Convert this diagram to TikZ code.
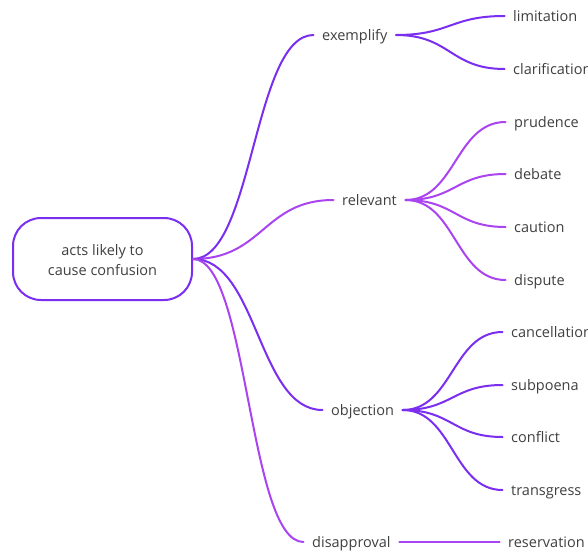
\documentclass[tikz,border=0pt]{standalone}
\usepackage{fontspec}
\setmainfont{Open Sans}
\usetikzlibrary{calc}
\definecolor{vio}{RGB}{122,46,240}
\definecolor{mag}{RGB}{170,68,240}
\definecolor{txt}{RGB}{64,64,64}
\begin{document}
\begin{tikzpicture}[x=1pt,y=-1pt,
  lbl/.style={font=\fontsize{14.5}{17}\selectfont, text=txt, inner xsep=8.5pt, inner ysep=0pt, text height=11pt, text depth=0pt, anchor=west},
  link/.style={line width=2pt, line cap=round, to path={let \p1=(\tikztostart), \p2=(\tikztotarget) in .. controls ({(\x1+\x2)/2},\y1) and ({(\x1+\x2)/2},\y2) .. (\tikztotarget)}}]
\useasboundingbox[fill=white] (0,0) rectangle (588,554);
\node[draw=vio, line width=2pt, rounded corners=28pt, minimum width=179pt, minimum height=82pt, align=center, text=txt, font=\fontsize{14.5}{20}\selectfont] (root) at (102.5,259) {\raisebox{0pt}[\dimexpr\height+4pt\relax]{\begin{tabular}{@{}c@{}}acts likely to\\cause confusion\end{tabular}}};
% level 1
\node[lbl] (exemplify) at (313.5,35) {exemplify};
\node[lbl] (relevant) at (333.5,200) {relevant};
\node[lbl] (objection) at (322.5,410) {objection};
\node[lbl] (disapproval) at (303.5,542) {disapproval};
% leaves
\node[lbl] (limitation) at (504.5,16) {limitation};
\node[lbl] (clarification) at (504.5,69) {clarification};
\node[lbl] (prudence) at (505.5,122) {prudence};
\node[lbl] (debate) at (505.5,174) {debate};
\node[lbl] (caution) at (505.5,227) {caution};
\node[lbl] (dispute) at (505.5,280) {dispute};
\node[lbl] (cancellation) at (502.5,332) {cancellation};
\node[lbl] (subpoena) at (502.5,385) {subpoena};
\node[lbl] (conflict) at (502.5,437) {conflict};
\node[lbl] (transgress) at (502.5,490) {transgress};
\node[lbl] (reservation) at (499.5,542) {reservation};
% connectors
\draw[link, vio] (root.east) to (exemplify.west);
\draw[link, mag] (root.east) to (relevant.west);
\draw[link, vio] (root.east) to (objection.west);
\draw[link, mag] (root.east) to (disapproval.west);
\draw[link, vio] (exemplify.east) to (limitation.west);
\draw[link, vio] (exemplify.east) to (clarification.west);
\draw[link, mag] (relevant.east) to (prudence.west);
\draw[link, mag] (relevant.east) to (debate.west);
\draw[link, mag] (relevant.east) to (caution.west);
\draw[link, mag] (relevant.east) to (dispute.west);
\draw[link, vio] (objection.east) to (cancellation.west);
\draw[link, vio] (objection.east) to (subpoena.west);
\draw[link, vio] (objection.east) to (conflict.west);
\draw[link, vio] (objection.east) to (transgress.west);
\draw[link, mag] (disapproval.east) to (reservation.west);
\end{tikzpicture}
\end{document}
